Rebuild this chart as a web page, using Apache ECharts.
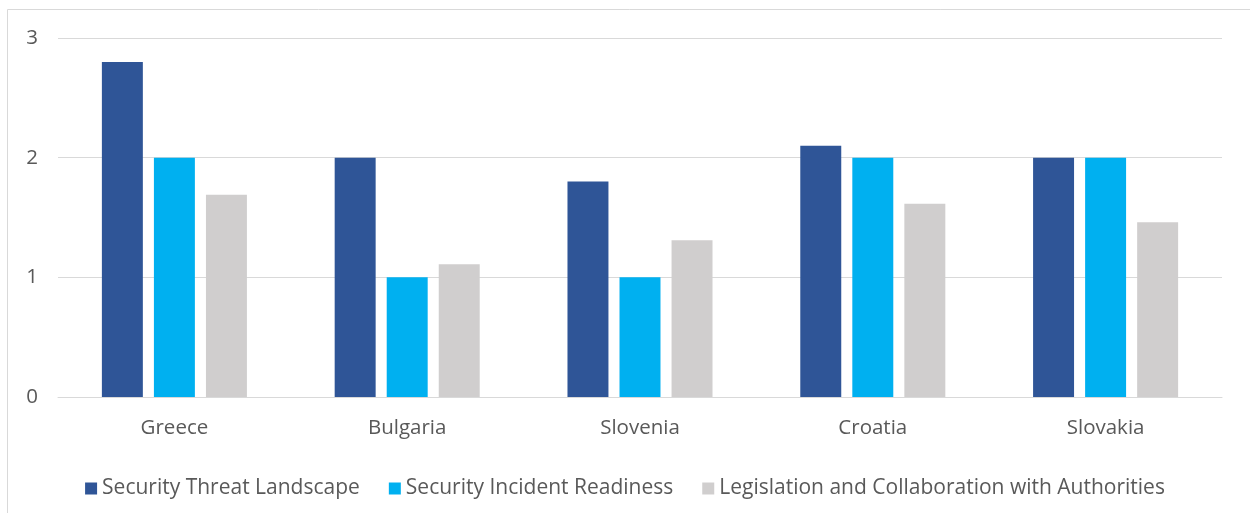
<!DOCTYPE html>
<html><head><meta charset="utf-8">
<script src="https://cdn.jsdelivr.net/npm/echarts@6/dist/echarts.min.js"></script>
<style>html,body{margin:0;padding:0;background:#fff}#c{width:1250px;height:513px}</style>
</head><body><div id="c"></div>
<script>
const categories = ['Greece','Bulgaria','Slovenia','Croatia','Slovakia'];
const seriesNames = ['Security Threat Landscape','Security Incident Readiness','Legislation and Collaboration with Authorities'];
const threat = [2.8, 2.0, 1.8, 2.1, 2.0];
const readiness = [2.0, 1.0, 1.0, 2.0, 2.0];
const legislation = [1.69, 1.11, 1.31, 1.615, 1.46];
const yTicks = [0, 1, 2, 3];
const colors = ['#2F5597', '#00B0F0', '#D0CECE'];
const font = 'Open Sans';
const chart = echarts.init(document.getElementById('c'));
const data = [threat, readiness, legislation];
chart.setOption({
  animation: false,
  textStyle: {fontFamily: font},
  graphic: [{type:'rect', shape:{x:7.5,y:9.5,width:1260,height:520}, style:{fill:'none', stroke:'#D9D9D9', lineWidth:1}, silent:true}],
  grid: {left: 58, right: 28, top: 38, bottom: 116},
  legend: {
    bottom: 9, left: 'center', itemWidth: 12, itemHeight: 12, itemGap: 29,
    icon: 'rect',
    textStyle: {color:'#595959', fontSize: 21, fontFamily: font, padding:[0,0,0,0]},
    data: seriesNames
  },
  xAxis: {
    type: 'category', data: categories,
    axisLine: {show: true, lineStyle: {color:'#D9D9D9', width: 1}},
    axisTick: {show: false},
    axisLabel: {color:'#595959', fontSize: 20.5, margin: 21}
  },
  yAxis: {
    type: 'value', min: yTicks[0], max: yTicks[yTicks.length-1], interval: 1,
    axisLine: {show:false}, axisTick: {show:false},
    axisLabel: {color:'#595959', fontSize: 20.5, margin: 20, align: 'right'},
    splitLine: {lineStyle: {color:'#D9D9D9', width: 1}}
  },
  series: seriesNames.map((n, i) => ({
    name: n, type: 'bar', data: data[i], barWidth: '17.6%', barGap: '27%',
    itemStyle: {color: colors[i]}
  }))
});
</script></body></html>
